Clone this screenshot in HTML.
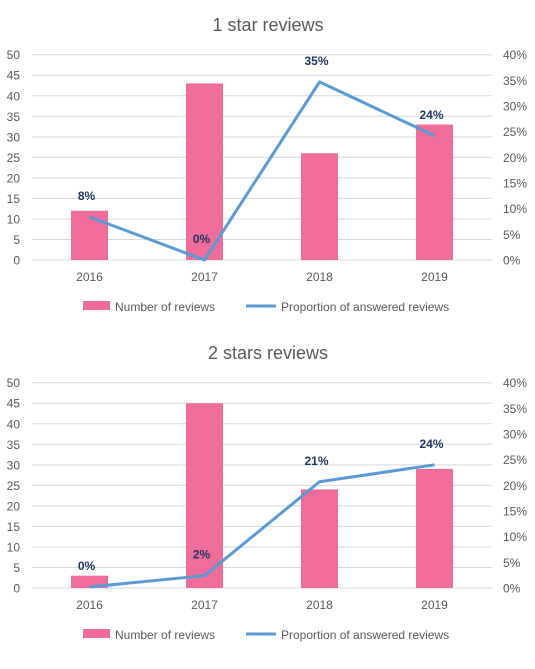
<!DOCTYPE html>
<html><head><meta charset="utf-8"><style>
body{margin:0;background:#fff;width:535px;height:664px;overflow:hidden;font-family:"Liberation Sans",sans-serif}
svg text{font-family:"Liberation Sans",sans-serif}
</style></head><body>
<svg id="svg" width="535" height="664"></svg>
<script>
const categories=["2016","2017","2018","2019"];
const counts1=[12,43,26,33];
const props1=[8.4,0,34.7,24.2];
const propLabels1=["8%","0%","35%","24%"];
const counts2=[3,45,24,29];
const props2=[0.2,2.4,20.7,24];
const propLabels2=["0%","2%","21%","24%"];
const leftTicks=[0,5,10,15,20,25,30,35,40,45,50];
const rightTicks=["0%","5%","10%","15%","20%","25%","30%","35%","40%"];
const NS="http://www.w3.org/2000/svg";
const svg=document.getElementById('svg');
function mk(t,a,p){const e=document.createElementNS(NS,t);for(const k in a)e.setAttribute(k,a[k]);(p||svg).appendChild(e);return e;}
function chart(off,title,counts,props,labels,key){
  const g=mk('g',{});
  
  
  const x0=32,x1=492,yTop=54.7+off,yBot=260+off;
  const bw=(x1-x0)/categories.length;
  const xc=i=>x0+bw*(i+0.5);
  const yL=v=>yBot-(v/50)*(yBot-yTop);
  const yR=v=>yBot-(v/40)*(yBot-yTop);
  let t=mk('text',{x:268,y:31+off,'text-anchor':'middle','font-size':18,fill:'#595959'},g);t.textContent=title;
  
  leftTicks.forEach(v=>{
    const l=mk('line',{x1:x0,x2:x1,y1:yL(v),y2:yL(v),stroke:'#d9d9d9','stroke-width':1},g);
    
    const tt=mk('text',{x:20,y:yL(v)+4.5,'text-anchor':'end','font-size':12,fill:'#595959'},g);tt.textContent=v;
    
  });
  rightTicks.forEach((s,i)=>{
    const tt=mk('text',{x:503,y:yR(i*5)+4.5,'font-size':12,fill:'#595959'},g);tt.textContent=s;
    
  });
  counts.forEach((v,i)=>{
    const r=mk('rect',{x:xc(i)-18.5,y:yL(v),width:37,height:yBot-yL(v),fill:'#f06c9b'},g);
    
    const tt=mk('text',{x:xc(i),y:yBot+21,'text-anchor':'middle','font-size':12,fill:'#595959'},g);tt.textContent=categories[i];
    
  });
  const pts=props.map((v,i)=>xc(i)+','+yR(v)).join(' ');
  const pl=mk('polyline',{points:pts,fill:'none',stroke:'#5b9bd5','stroke-width':3,'stroke-linejoin':'round'},g);
  
  props.forEach((v,i)=>{
    const tt=mk('text',{x:xc(i)-3,y:yR(v)-17,'text-anchor':'middle','font-size':12,'font-weight':'bold',fill:'#1f3864'},g);tt.textContent=labels[i];
    
  });
  const lr=mk('rect',{x:83,y:301+off,width:27,height:9,fill:'#f06c9b'},g);
  
  let lt=mk('text',{x:115,y:311+off,'font-size':12,fill:'#595959'},g);lt.textContent='Number of reviews';
  
  const ll=mk('line',{x1:246,x2:276,y1:306+off,y2:306+off,stroke:'#5b9bd5','stroke-width':3},g);
  
  lt=mk('text',{x:281,y:311+off,'font-size':12,fill:'#595959'},g);lt.textContent='Proportion of answered reviews';
  
}
chart(0,"1 star reviews",counts1,props1,propLabels1,'one-star');
chart(328,"2 stars reviews",counts2,props2,propLabels2,'two-stars');
</script>
</body></html>
